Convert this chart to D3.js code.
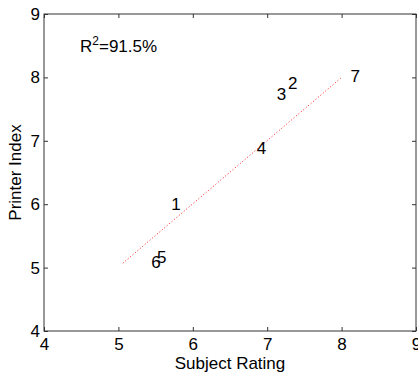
<!DOCTYPE html>
<html>
<head>
<meta charset="utf-8">
<script src="https://cdn.jsdelivr.net/npm/d3@7"></script>
<style>
  body { margin: 0; background: #fff; }
  text { font-family: 'Liberation Sans', Arial, sans-serif; }
</style>
</head>
<body>
<div id="chart"></div>
<script>
// point labels and their positions (subject rating, printer index)
const labels = ['1', '2', '3', '4', '5', '6', '7']
const rating = [5.71, 7.28, 7.13, 6.86, 5.52, 5.44, 8.12]
const printerIndex = [6.0, 7.91, 7.73, 6.88, 5.16, 5.08, 8.02]

// fitted line end points
const fitX = [5.06, 8.0]
const fitY = [5.07, 8.0]

const xTicks = [4, 5, 6, 7, 8, 9]
const yTicks = [4, 5, 6, 7, 8, 9]
const r2Text = '=91.5%'

const width = 418
const height = 377
const margin = { top: 14, right: 2, bottom: 46, left: 44 }
const fontSize = '17px'

const svg = d3.select('#chart').append('svg')
    .attr('width', width)
    .attr('height', height)

let x = d3.scaleLinear()
    .domain([4, 9])
    .range([margin.left, width - margin.right])

let y = d3.scaleLinear()
    .domain([4, 9])
    .range([height - margin.bottom, margin.top])

const axisColour = '#333'

// box
svg.append('rect')
    .attr('x', x(4))
    .attr('y', y(9))
    .attr('width', x(9) - x(4))
    .attr('height', y(4) - y(9))
    .style('fill', 'none')
    .style('stroke', axisColour)
    .style('stroke-width', 1)

// axes, ticks pointing inwards
let styleAxis = (g) => {
    g.select('.domain').remove()
    g.selectAll('.tick line').attr('stroke', axisColour)
    g.selectAll('.tick text')
        .style('font-size', fontSize)
        .attr('fill', '#000')
}

svg.append('g')
    .attr('transform', 'translate(0,' + y(4) + ')')
    .call(d3.axisBottom(x).tickValues(xTicks).tickFormat(d3.format('d')).tickSizeInner(-4).tickPadding(7))
    .call(styleAxis)

svg.append('g')
    .attr('transform', 'translate(0,' + y(9) + ')')
    .call(d3.axisTop(x).tickValues(xTicks).tickFormat('').tickSizeInner(-4))
    .call(styleAxis)

svg.append('g')
    .attr('transform', 'translate(' + x(4) + ',0)')
    .call(d3.axisLeft(y).tickValues(yTicks).tickFormat(d3.format('d')).tickSizeInner(-4).tickPadding(4))
    .call(styleAxis)

svg.append('g')
    .attr('transform', 'translate(' + x(9) + ',0)')
    .call(d3.axisRight(y).tickValues(yTicks).tickFormat('').tickSizeInner(-4))
    .call(styleAxis)

// dotted fit line
svg.append('line')
    .attr('x1', x(fitX[0]))
    .attr('y1', y(fitY[0]))
    .attr('x2', x(fitX[1]))
    .attr('y2', y(fitY[1]))
    .style('stroke', '#f00')
    .style('stroke-width', 0.9)
    .style('stroke-dasharray', '1,2.2')

// point labels
svg.selectAll('.pt')
    .data(labels)
    .enter().append('text')
    .attr('class', 'pt')
    .attr('x', (d, i) => x(rating[i]))
    .attr('y', (d, i) => y(printerIndex[i]))
    .attr('dy', '0.35em')
    .style('font-size', fontSize)
    .text((d) => d)

// R^2 annotation
let r2 = svg.append('text')
    .attr('x', 80)
    .attr('y', 52)
    .style('font-size', fontSize)
r2.append('tspan').text('R')
r2.append('tspan').attr('dy', -7).style('font-size', '12px').text('2')
r2.append('tspan').attr('dy', 7).text(r2Text)

// axis labels
svg.append('text')
    .attr('x', (x(4) + x(9)) / 2)
    .attr('y', 369)
    .style('text-anchor', 'middle')
    .style('font-size', fontSize)
    .text('Subject Rating')

svg.append('text')
    .attr('transform', 'translate(21,' + (y(4) + y(9)) / 2 + ') rotate(-90)')
    .style('text-anchor', 'middle')
    .style('font-size', fontSize)
    .text('Printer Index')
</script>
</body>
</html>
